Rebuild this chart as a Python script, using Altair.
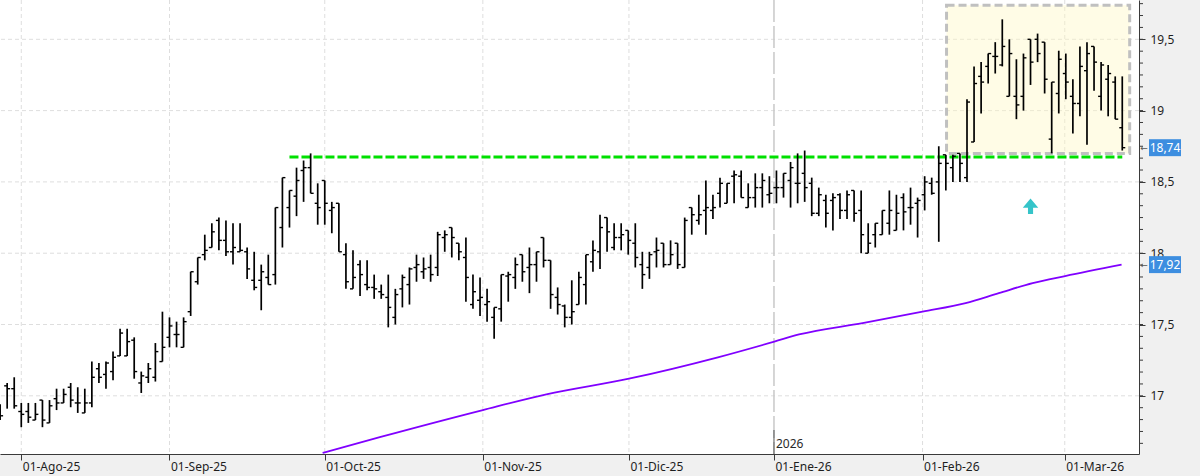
import altair as alt
import pandas as pd

# ---------------- data ----------------
bar_index = list(range(-1, 159))  # trading-day index
opens = [16.89, 17.07, 17.05, 16.89, 16.89, 16.83, 16.97, 16.81, 16.98, 16.95,
         17.06, 16.95, 16.88, 16.95, 17.19, 17.15, 17.17, 17.28, 17.28, 17.39,
         17.09, 17.13, 17.13, 17.24, 17.41, 17.43, 17.34, 17.59, 17.80, 17.99,
         18.04, 18.23, 18.09, 18.01, 18.01, 18.01, 17.81, 17.81, 17.83, 17.85,
         18.18, 18.32, 18.40, 18.58, 18.60, 18.35, 18.51, 18.30, 18.35, 17.99,
         17.75, 17.92, 17.78, 17.76, 17.73, 17.69, 17.55, 17.75, 17.78, 17.90,
         17.87, 17.90, 17.90, 18.11, 18.18, 18.07, 17.97, 17.64, 17.67, 17.64,
         17.55, 17.61, 17.84, 17.83, 17.99, 17.90, 17.92, 18.11, 17.95, 17.69,
         17.63, 17.55, 17.64, 17.78, 17.94, 18.01, 18.25, 18.04, 18.11, 18.16,
         18.07, 17.92, 17.90, 18.01, 18.07, 17.92, 18.07, 17.90, 18.32, 18.23,
         18.30, 18.30, 18.42, 18.35, 18.54, 18.54, 18.32, 18.39, 18.46, 18.41,
         18.46, 18.46, 18.51, 18.49, 18.56, 18.49, 18.28, 18.37, 18.37, 18.41,
         18.30, 18.44, 18.30, 18.00, 18.13, 18.13, 18.21, 18.16, 18.39, 18.32,
         18.35, 18.41, 18.49, 18.50, 18.69, 18.60, 18.70, 18.53, 18.78, 19.24,
         19.31, 19.38, 19.32, 19.10, 19.10, 19.10, 19.50, 19.50, 19.48, 18.80,
         19.12, 19.26, 19.10, 19.05, 19.28, 19.45, 19.10, 19.22, 19.20, 18.88]
highs = [16.94, 17.09, 17.13, 16.95, 16.95, 16.95, 16.97, 16.97, 17.05, 17.05,
         17.09, 17.06, 17.05, 17.24, 17.23, 17.24, 17.31, 17.47, 17.47, 17.41,
         17.17, 17.23, 17.37, 17.59, 17.55, 17.52, 17.55, 17.87, 17.97, 18.13,
         18.21, 18.25, 18.23, 18.21, 18.21, 18.04, 18.01, 17.92, 17.99, 18.32,
         18.53, 18.44, 18.60, 18.65, 18.70, 18.49, 18.51, 18.36, 18.35, 18.07,
         18.02, 17.95, 17.95, 17.85, 17.78, 17.85, 17.75, 17.85, 17.90, 17.99,
         17.97, 17.99, 18.15, 18.16, 18.18, 18.07, 18.11, 17.85, 17.83, 17.75,
         17.62, 17.85, 17.87, 17.97, 17.99, 18.04, 18.01, 18.11, 17.95, 17.76,
         17.64, 17.81, 17.87, 17.99, 18.09, 18.27, 18.25, 18.21, 18.21, 18.16,
         18.21, 18.01, 18.01, 18.11, 18.07, 18.09, 18.07, 18.25, 18.32, 18.41,
         18.51, 18.41, 18.53, 18.49, 18.58, 18.58, 18.49, 18.56, 18.56, 18.54,
         18.58, 18.56, 18.64, 18.70, 18.72, 18.53, 18.46, 18.41, 18.42, 18.42,
         18.44, 18.44, 18.44, 18.21, 18.21, 18.30, 18.44, 18.41, 18.42, 18.46,
         18.39, 18.54, 18.53, 18.75, 18.69, 18.69, 18.70, 19.08, 19.31, 19.34,
         19.40, 19.48, 19.64, 19.50, 19.36, 19.40, 19.50, 19.54, 19.48, 19.20,
         19.42, 19.40, 19.22, 19.45, 19.48, 19.45, 19.34, 19.32, 19.24, 19.24]
lows = [16.83, 16.91, 16.91, 16.78, 16.81, 16.83, 16.78, 16.81, 16.90, 16.95,
        16.92, 16.88, 16.88, 16.92, 17.09, 17.05, 17.11, 17.28, 17.28, 17.12,
        17.02, 17.09, 17.10, 17.24, 17.34, 17.34, 17.34, 17.56, 17.78, 17.95,
        18.04, 18.02, 17.98, 17.92, 18.01, 17.82, 17.74, 17.60, 17.78, 17.78,
        18.04, 18.18, 18.26, 18.36, 18.42, 18.20, 18.20, 18.14, 18.01, 17.75,
        17.75, 17.70, 17.74, 17.68, 17.68, 17.48, 17.50, 17.62, 17.64, 17.80,
        17.82, 17.80, 17.84, 18.01, 17.97, 17.95, 17.66, 17.61, 17.56, 17.52,
        17.40, 17.52, 17.66, 17.75, 17.80, 17.72, 17.80, 17.90, 17.61, 17.57,
        17.48, 17.50, 17.64, 17.64, 17.87, 17.89, 18.01, 18.02, 18.02, 17.99,
        17.90, 17.75, 17.82, 17.90, 17.90, 17.92, 17.89, 17.90, 18.13, 18.20,
        18.13, 18.24, 18.32, 18.35, 18.35, 18.39, 18.32, 18.32, 18.32, 18.35,
        18.35, 18.39, 18.32, 18.35, 18.36, 18.26, 18.26, 18.18, 18.16, 18.24,
        18.24, 18.22, 18.00, 18.00, 18.04, 18.13, 18.13, 18.16, 18.16, 18.20,
        18.11, 18.30, 18.41, 18.08, 18.44, 18.50, 18.50, 18.50, 18.78, 18.98,
        19.19, 19.26, 19.31, 19.10, 18.94, 19.00, 19.18, 19.34, 19.12, 18.70,
        18.98, 19.08, 18.84, 18.96, 18.76, 19.14, 19.00, 18.96, 18.94, 18.72]
closes = [16.86, 17.05, 16.93, 16.87, 16.85, 16.87, 16.83, 16.93, 16.95, 17.01,
          16.97, 16.95, 16.95, 17.13, 17.13, 17.23, 17.27, 17.44, 17.38, 17.17,
          17.14, 17.19, 17.31, 17.34, 17.49, 17.43, 17.52, 17.87, 17.97, 18.02,
          18.15, 18.09, 18.01, 18.04, 18.02, 17.89, 17.76, 17.87, 17.78, 18.32,
          18.53, 18.44, 18.51, 18.60, 18.42, 18.32, 18.35, 18.32, 18.01, 17.80,
          17.83, 17.85, 17.76, 17.75, 17.71, 17.62, 17.71, 17.83, 17.89, 17.92,
          17.89, 17.85, 18.13, 18.13, 18.11, 18.01, 17.83, 17.73, 17.69, 17.66,
          17.62, 17.85, 17.85, 17.92, 17.87, 17.92, 18.01, 17.95, 17.71, 17.64,
          17.55, 17.59, 17.83, 17.99, 18.02, 18.18, 18.15, 18.11, 18.13, 18.09,
          17.97, 17.85, 17.99, 18.02, 17.92, 17.99, 17.92, 18.23, 18.27, 18.27,
          18.32, 18.32, 18.49, 18.49, 18.55, 18.39, 18.39, 18.46, 18.51, 18.42,
          18.46, 18.56, 18.60, 18.49, 18.46, 18.28, 18.41, 18.28, 18.39, 18.30,
          18.41, 18.28, 18.13, 18.07, 18.21, 18.30, 18.30, 18.28, 18.29, 18.32,
          18.37, 18.50, 18.42, 18.63, 18.63, 18.68, 18.63, 19.06, 19.19, 19.20,
          19.40, 19.38, 19.45, 19.40, 19.04, 19.37, 19.34, 19.40, 19.22, 19.20,
          19.36, 19.20, 19.05, 19.31, 19.40, 19.34, 19.32, 19.26, 18.94, 18.74]

ma_index = [44.7, 52.8, 67.4, 76.4, 88.1, 100.7, 108.7, 112.2, 121.2, 129.7,
            135.8, 140.5, 145.3, 149.9, 157.9]
ma_values = [16.60, 16.71, 16.90, 17.01, 17.12, 17.27, 17.38, 17.43, 17.51, 17.59,
             17.65, 17.72, 17.79, 17.84, 17.92]

date_ticks = [2, 23, 45, 67.4, 88.1, 108.65, 129.7, 149.85]
date_labels = ["01-Ago-25", "01-Sep-25", "01-Oct-25", "01-Nov-25",
               "01-Dic-25", "01-Ene-26", "01-Feb-26", "01-Mar-26"]
year_tick = 108.65
year_label = "2026"
price_ticks = [17, 17.5, 18, 18.5, 19, 19.5]
minor_ticks = [round(16.5 + i / 12, 4) for i in range(1, 40)]

support_level = 18.675
support_range = [40, 158]
box_index = [133.1, 159.05]
box_price = [18.70, 19.738]
arrow_index = 145
arrow_price = 18.33
last_close_label = ("18,74", 18.74)
ma_last_label = ("17,92", 17.92)

x_domain = [-1.015, 160.37]
y_domain = [16.592, 19.7756]

# ---------------- chart ----------------
W, H = 1139, 454
FONT = "Noto Sans"

bars = pd.DataFrame({"k": bar_index, "o": opens, "h": highs, "l": lows, "c": closes})
ma = pd.DataFrame({"k": ma_index, "v": ma_values})

xscale = alt.Scale(domain=x_domain, nice=False, zero=False)
yscale = alt.Scale(domain=y_domain, nice=False, zero=False)

label_expr = "{}[indexof({}, datum.value)]".format(
    "[" + ",".join("'%s'" % s for s in date_labels) + "]",
    "[" + ",".join(str(v) for v in date_ticks) + "]")

xaxis = alt.Axis(values=date_ticks, labelExpr=label_expr, grid=False,
                 domainColor="#3a3a3a", tickColor="#3a3a3a", tickSize=6,
                 labelAlign="left", labelBaseline="middle", labelPadding=6,
                 labelOffset=1, labelFontSize=12, labelColor="#1e1e1e",
                 labelFont=FONT, labelOverlap=False, labelFlush=False, title=None)
yaxis = alt.Axis(values=price_ticks, orient="right", grid=False,
                 labelExpr="replace(toString(datum.value), '.', ',')",
                 domainColor="#3a3a3a", tickColor="#3a3a3a", tickSize=6,
                 labelAlign="left", labelBaseline="middle", labelPadding=5,
                 labelFontSize=12, labelColor="#1e1e1e", labelFont=FONT,
                 labelOverlap=False, labelFlush=False, title=None)


def X(f):
    return alt.X(f, type="quantitative", scale=xscale, axis=xaxis)


def X2(f):
    return alt.X2(f)


def Y(f):
    return alt.Y(f, type="quantitative", scale=yscale, axis=yaxis)


hgrid = alt.Chart(pd.DataFrame({"p": price_ticks})).mark_rule(
    color="#dedede", strokeWidth=1, strokeDash=[4, 3]).encode(y=Y("p"))

vg = [t for t in date_ticks if t != year_tick]
vgrid = alt.Chart(pd.DataFrame({"k": vg})).mark_rule(
    color="#dedede", strokeWidth=1, strokeDash=[4, 3]).encode(x=X("k"))

ygrid = alt.Chart(pd.DataFrame({"k": [year_tick]})).mark_rule(
    color="#c8c8c8", strokeWidth=1.5, strokeDash=[22, 4]).encode(x=X("k"))

ytick_dark = alt.Chart(pd.DataFrame({"k": [year_tick]})).mark_rule(
    color="#555555", strokeWidth=1).encode(x=X("k"), y=alt.value(430), y2=alt.value(H))

box = alt.Chart(pd.DataFrame({"k1": [box_index[0]], "k2": [box_index[1]],
                              "p1": [box_price[0]], "p2": [box_price[1]]})).mark_rect(
    fill="#fff9c4", fillOpacity=0.42, stroke="#c0c0c0", strokeWidth=3,
    strokeDash=[8, 4]).encode(x=X("k1"), x2=X2("k2"), y=Y("p1"), y2=alt.Y2("p2"))

ma_line = alt.Chart(ma).mark_line(color="#8000ff", strokeWidth=1.8, clip=True,
                                  interpolate="monotone").encode(x=X("k"), y=Y("v"))

support = alt.Chart(pd.DataFrame({"k1": [support_range[0]], "k2": [support_range[1]],
                                  "p": [support_level]})).mark_rule(
    color="#00e000", strokeWidth=3, strokeDash=[9, 3]).encode(
    x=X("k1"), x2=X2("k2"), y=Y("p"))

hl = alt.Chart(bars).mark_rule(color="black", strokeWidth=1.7, clip=True).encode(
    x=X("k"), y=Y("l"), y2=alt.Y2("h"))
op = alt.Chart(bars).mark_rule(color="black", strokeWidth=1.4, xOffset=-3, x2Offset=0,
                               clip=True).encode(x=X("k"), x2=X2("k"), y=Y("o"))
cl = alt.Chart(bars).mark_rule(color="black", strokeWidth=1.4, xOffset=0, x2Offset=3,
                               clip=True).encode(x=X("k"), x2=X2("k"), y=Y("c"))

arrow_path = "M0,-1L1,0.2L0.33,0.2L0.33,1L-0.33,1L-0.33,0.2L-1,0.2Z"
arrow = alt.Chart(pd.DataFrame({"k": [arrow_index], "p": [arrow_price]})).mark_point(
    shape=arrow_path, filled=True, fill="#35c4c9", fillOpacity=1, strokeWidth=0,
    size=240).encode(x=X("k"), y=Y("p"))

year_text = alt.Chart(pd.DataFrame({"k": [year_tick], "t": [year_label]})).mark_text(
    align="left", baseline="middle", dx=2, fontSize=12, font=FONT, color="#2a2a2a").encode(
    x=X("k"), y=alt.value(444), text="t:N")

minor = alt.Chart(pd.DataFrame({"p": minor_ticks})).transform_filter(
    alt.FieldRangePredicate(field="p", range=y_domain)).mark_rule(
    color="#3a3a3a", strokeWidth=1).encode(
    y=Y("p"), x=alt.value(W), x2=alt.value(W + 4))

lab_df = pd.DataFrame({"t": [last_close_label[0], ma_last_label[0]],
                       "p": [last_close_label[1], ma_last_label[1]]})
box_path = "M-1,-0.53L1,-0.53L1,0.53L-1,0.53Z"
lab_box = alt.Chart(lab_df).mark_point(
    shape=box_path, filled=True, fill="#3d8ee0", fillOpacity=1, strokeWidth=0,
    size=1024).encode(y=Y("p"), x=alt.value(W + 26))
lab_text = alt.Chart(lab_df).mark_text(
    align="center", baseline="middle", fontSize=12, font=FONT, color="white").encode(
    y=Y("p"), x=alt.value(W + 26), text="t:N")
lab_arrow = alt.Chart(lab_df).mark_text(
    align="center", baseline="middle", fontSize=9, font="DejaVu Sans", color="#555555",
    text="\u2190").encode(y=Y("p"), x=alt.value(W + 5))

chart = alt.layer(
    hgrid, vgrid, ygrid, box, ytick_dark, ma_line, support, hl, op, cl, arrow,
    year_text, minor, lab_box, lab_text, lab_arrow
).properties(
    width=W, height=H,
    autosize=alt.AutoSizeParams(type="none"),
    padding={"left": 0, "top": 0, "right": 1200 - W, "bottom": 476 - H},
    background="#f0f0f0",
).configure(
    font=FONT,
    view=alt.ViewConfig(fill="white", strokeWidth=0),
)

chart.save("out.html", embed_options={"renderer": "svg", "actions": False})
